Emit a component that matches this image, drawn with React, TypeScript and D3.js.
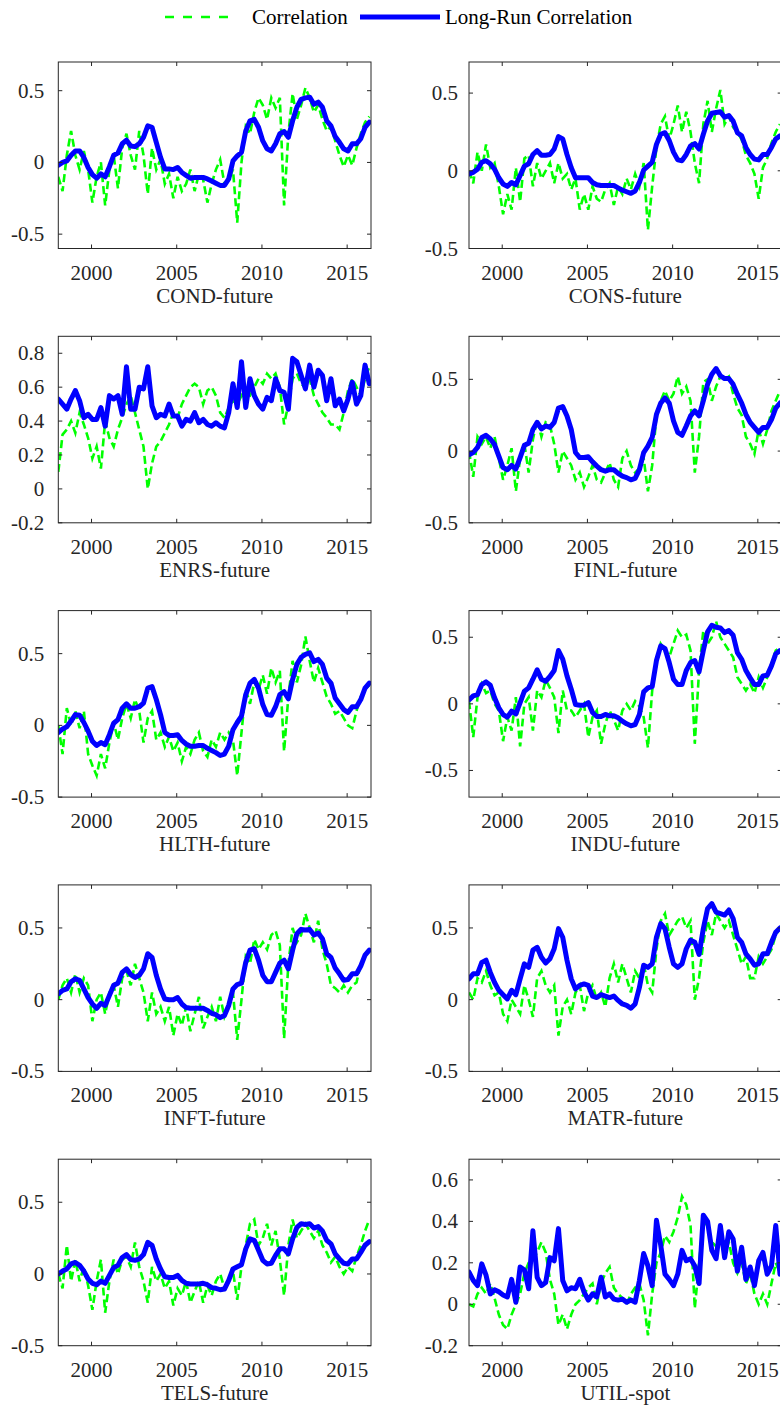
import React from 'react';
import * as d3 from 'd3';

// quarterly observation grid, 1998 to mid-2016
const startYear = 1998.05;
const quarters = d3.range(74).map(i => startYear + i * 0.25);
const yearTicks = [2000, 2005, 2010, 2015];

const panelNames = [
  'COND-future', 'CONS-future', 'ENRS-future', 'FINL-future', 'HLTH-future',
  'INDU-future', 'INFT-future', 'MATR-future', 'TELS-future', 'UTIL-spot',
];

const yRanges: [number, number][] = [
  [-0.6, 0.7], [-0.5, 0.7], [-0.2, 0.9], [-0.5, 0.8], [-0.5, 0.8],
  [-0.7, 0.7], [-0.5, 0.8], [-0.5, 0.8], [-0.5, 0.8], [-0.2, 0.7],
];

const halfTicks = [-0.5, 0, 0.5];
const enrsTicks = [-0.2, 0, 0.2, 0.4, 0.6, 0.8];
const utilTicks = [-0.2, 0, 0.2, 0.4, 0.6];
const yTickSets = [halfTicks, halfTicks, enrsTicks, halfTicks, halfTicks, halfTicks, halfTicks, halfTicks, halfTicks, utilTicks];

// Correlation (green dashed) and Long-Run Correlation (blue)
const condCorr = [
  -0.1, -0.2, 0.05, 0.22, 0.05, -0.05, 0.08, -0.05,
  -0.28, -0.1, 0.0, -0.3, -0.05, 0.05, -0.18, 0.1,
  0.2, 0.05, -0.05, 0.22, 0.05, -0.22, 0.1, -0.05,
  0.02, -0.15, -0.08, -0.25, -0.1, -0.2, -0.15, -0.05,
  -0.2, -0.08, -0.12, -0.28, -0.15, -0.05, 0.02, -0.15,
  -0.12, -0.05, -0.42, 0.0, 0.25, 0.2, 0.35, 0.45,
  0.4, 0.3, 0.45, 0.38, 0.45, -0.3, 0.2, 0.48,
  0.3, 0.4, 0.52, 0.45, 0.35, 0.4, 0.3, 0.22,
  0.25, 0.15, 0.05, -0.03, 0.05, -0.02, 0.1, 0.2,
  0.28, 0.32,
];
const condLR = [
  -0.02, 0, 0.01, 0.05, 0.08, 0.08, 0.035, -0.035,
  -0.085, -0.11, -0.08, -0.1, -0.03, 0.05, 0.065, 0.13,
  0.155, 0.115, 0.11, 0.13, 0.175, 0.255, 0.245, 0.14,
  0.035, -0.045, -0.045, -0.05, -0.035, -0.07, -0.09, -0.11,
  -0.105, -0.105, -0.105, -0.115, -0.13, -0.145, -0.16, -0.16,
  -0.115, 0.01, 0.045, 0.07, 0.22, 0.29, 0.3, 0.245,
  0.15, 0.095, 0.08, 0.13, 0.2, 0.215, 0.175, 0.29,
  0.385, 0.44, 0.45, 0.455, 0.405, 0.42, 0.385, 0.29,
  0.255, 0.18, 0.14, 0.095, 0.08, 0.13, 0.13, 0.165,
  0.245, 0.28,
];

const consCorr = [
  0.0, -0.08, 0.12, 0.0, 0.17, 0.02, 0.05, -0.1,
  -0.28, -0.15, -0.25, 0.02, -0.2, 0.08, 0.1, -0.1,
  0.05, -0.05, 0.0, 0.05, -0.08, 0.05, -0.05, -0.02,
  -0.12, -0.05, -0.25, -0.15, -0.25, -0.1, -0.18, -0.2,
  -0.12, -0.08, -0.22, -0.1, -0.15, -0.05, -0.12, -0.02,
  -0.1, 0.05, -0.38, -0.1, 0.15, 0.3, 0.35, 0.2,
  0.3, 0.42, 0.25, 0.38, 0.25, 0.05, -0.08, 0.3,
  0.45, 0.25, 0.4, 0.52, 0.3, 0.35, 0.28, 0.25,
  0.2, 0.1, 0.05, -0.02, -0.18, 0.02, 0.08, 0.18,
  0.25, 0.3,
];
const consLR = [
  -0.02, -0.01, 0.01, 0.055, 0.065, 0.045, 0.01, -0.045,
  -0.085, -0.1, -0.075, -0.09, -0.03, 0.03, 0.045, 0.105,
  0.13, 0.1, 0.1, 0.105, 0.14, 0.22, 0.205, 0.105,
  0.02, -0.045, -0.045, -0.045, -0.045, -0.075, -0.09, -0.095,
  -0.095, -0.095, -0.095, -0.11, -0.125, -0.135, -0.145, -0.13,
  -0.075, 0.005, 0.03, 0.055, 0.17, 0.235, 0.245, 0.195,
  0.12, 0.07, 0.065, 0.105, 0.16, 0.175, 0.14, 0.235,
  0.32, 0.37, 0.375, 0.38, 0.345, 0.355, 0.32, 0.245,
  0.225, 0.15, 0.105, 0.075, 0.07, 0.105, 0.105, 0.15,
  0.205, 0.225,
];

const enrsCorr = [
  0.1, 0.32, 0.35, 0.4, 0.33, 0.45, 0.38, 0.3,
  0.18, 0.25, 0.12, 0.4, 0.3, 0.25, 0.35, 0.42,
  0.5, 0.55, 0.45, 0.35, 0.25, 0.0, 0.15, 0.25,
  0.28, 0.33, 0.38, 0.45, 0.42, 0.5, 0.55, 0.6,
  0.62, 0.6, 0.5, 0.58, 0.6, 0.55, 0.45, 0.42,
  0.48, 0.52, 0.5, 0.55, 0.5, 0.55, 0.6, 0.65,
  0.62, 0.68, 0.65, 0.68, 0.6, 0.38, 0.5, 0.65,
  0.68, 0.62, 0.6, 0.65, 0.55, 0.5, 0.45, 0.42,
  0.38, 0.38, 0.35, 0.45, 0.58, 0.65, 0.6, 0.55,
  0.65, 0.72,
];
const enrsLR = [
  0.53, 0.5, 0.47, 0.53, 0.58, 0.52, 0.42, 0.44,
  0.41, 0.41, 0.48, 0.37, 0.55, 0.53, 0.55, 0.44,
  0.72, 0.47, 0.47, 0.6, 0.59, 0.72, 0.49, 0.42,
  0.44, 0.43, 0.5, 0.43, 0.43, 0.37, 0.41, 0.4,
  0.45, 0.39, 0.41, 0.38, 0.37, 0.39, 0.37, 0.36,
  0.45, 0.62, 0.48, 0.75, 0.48, 0.65, 0.55, 0.5,
  0.47, 0.54, 0.52, 0.65, 0.58, 0.57, 0.47, 0.77,
  0.75, 0.67, 0.59, 0.73, 0.6, 0.7, 0.67, 0.52,
  0.65, 0.49, 0.53, 0.46, 0.53, 0.63, 0.5, 0.55,
  0.73, 0.62,
];

const finlCorr = [
  0.0, -0.18, 0.1, 0.05, 0.1, 0.02, 0.1, -0.05,
  -0.2, -0.1, 0.02, -0.28, -0.05, 0.05, -0.15, 0.08,
  0.22, 0.1, 0.2, 0.18, 0.05, -0.15, 0.0, -0.05,
  -0.1, -0.2, -0.15, -0.25, -0.18, -0.1, -0.2, -0.22,
  -0.15, -0.08, -0.2, -0.25, -0.05, 0.0, -0.1, -0.15,
  -0.12, -0.05, -0.28, -0.1, 0.25, 0.35, 0.42, 0.35,
  0.4, 0.52, 0.4, 0.45, 0.35, -0.15, 0.1, 0.48,
  0.5, 0.35, 0.45, 0.52, 0.5, 0.52, 0.4, 0.3,
  0.25, 0.1, 0.05, -0.02, 0.15, 0.05, 0.15, 0.28,
  0.35, 0.42,
];
const finlLR = [
  -0.025, -0.01, 0.025, 0.095, 0.11, 0.085, 0.045, -0.035,
  -0.115, -0.13, -0.1, -0.125, -0.045, 0.04, 0.055, 0.15,
  0.2, 0.155, 0.175, 0.165, 0.2, 0.3, 0.31, 0.245,
  0.15, -0.01, -0.045, -0.045, -0.04, -0.075, -0.105, -0.13,
  -0.14, -0.13, -0.13, -0.155, -0.175, -0.185, -0.2, -0.19,
  -0.13, -0.01, 0.035, 0.095, 0.255, 0.335, 0.37, 0.335,
  0.21, 0.13, 0.11, 0.175, 0.245, 0.28, 0.245, 0.35,
  0.465, 0.535, 0.575, 0.525, 0.505, 0.505, 0.465, 0.395,
  0.335, 0.255, 0.2, 0.165, 0.13, 0.165, 0.165, 0.22,
  0.3, 0.335,
];

const hlthCorr = [
  0.0, -0.2, 0.12, 0.0, 0.1, -0.02, 0.1, -0.2,
  -0.28, -0.35, -0.2, -0.3, -0.12, 0.02, -0.1, 0.05,
  0.15, 0.05, 0.18, 0.1, -0.12, 0.05, 0.1, -0.1,
  -0.05, -0.15, -0.08, -0.18, -0.12, -0.25, -0.15, -0.2,
  -0.1, -0.05, -0.18, -0.22, -0.1, -0.15, -0.05, -0.1,
  -0.05, -0.1, -0.35, -0.05, 0.25, 0.15, 0.3, 0.25,
  0.35, 0.22, 0.4, 0.3, 0.38, -0.18, 0.2, 0.45,
  0.3, 0.42, 0.62, 0.45, 0.3, 0.4, 0.3, 0.2,
  0.15, 0.08, 0.1, 0.05, 0.0, -0.02, 0.1, 0.2,
  0.25, 0.28,
];
const hlthLR = [
  -0.05, -0.025, -0.01, 0.03, 0.075, 0.07, 0.02, -0.04,
  -0.11, -0.14, -0.12, -0.135, -0.065, 0.015, 0.04, 0.12,
  0.15, 0.12, 0.12, 0.13, 0.155, 0.26, 0.27, 0.18,
  0.075, -0.05, -0.07, -0.07, -0.065, -0.105, -0.13, -0.145,
  -0.145, -0.14, -0.14, -0.16, -0.175, -0.19, -0.21, -0.2,
  -0.145, -0.03, 0.02, 0.065, 0.215, 0.295, 0.32, 0.26,
  0.145, 0.075, 0.07, 0.13, 0.215, 0.235, 0.185, 0.32,
  0.425, 0.475, 0.495, 0.505, 0.445, 0.46, 0.425, 0.33,
  0.295, 0.19, 0.15, 0.11, 0.09, 0.13, 0.13, 0.18,
  0.26, 0.295,
];

const induCorr = [
  0.02, -0.25, 0.05, 0.15, 0.08, 0.1, 0.0, -0.05,
  -0.28, -0.1, -0.2, 0.05, -0.32, 0.0, 0.05, -0.2,
  0.1, 0.05, 0.18, 0.12, 0.05, -0.22, 0.1, -0.05,
  -0.05, -0.1, -0.05, 0.0, -0.25, -0.1, -0.05, -0.3,
  -0.15, -0.05, -0.12, -0.2, -0.05, 0.0, -0.05, 0.02,
  -0.02, -0.1, -0.33, 0.1, 0.3, 0.45, 0.4, 0.35,
  0.45, 0.55, 0.5, 0.52, 0.4, -0.3, 0.25, 0.55,
  0.45, 0.5, 0.62, 0.5, 0.45, 0.4, 0.35, 0.2,
  0.15, 0.1, 0.15, 0.08, 0.2, 0.12, 0.2, 0.3,
  0.4, 0.42,
];
const induLR = [
  0.03, 0.06, 0.07, 0.145, 0.165, 0.14, 0.045, -0.03,
  -0.08, -0.1, -0.055, -0.075, 0.01, 0.095, 0.12, 0.185,
  0.255, 0.185, 0.17, 0.205, 0.25, 0.4, 0.335, 0.21,
  0.11, -0.005, -0.01, -0.01, 0.01, -0.065, -0.095, -0.095,
  -0.08, -0.09, -0.09, -0.105, -0.13, -0.15, -0.165, -0.155,
  -0.08, 0.09, 0.12, 0.13, 0.325, 0.435, 0.415, 0.31,
  0.185, 0.145, 0.145, 0.25, 0.31, 0.325, 0.24, 0.4,
  0.54, 0.59, 0.575, 0.57, 0.535, 0.55, 0.515, 0.385,
  0.335, 0.25, 0.195, 0.145, 0.145, 0.21, 0.215, 0.285,
  0.375, 0.4,
];

const inftCorr = [
  0.0, 0.1, 0.15, 0.05, 0.18, 0.05, 0.15, 0.1,
  -0.15, 0.0, 0.05, -0.1, 0.05, 0.1, -0.05, 0.15,
  0.2, 0.1, 0.25, 0.15, 0.05, -0.15, 0.05, -0.1,
  -0.05, -0.15, -0.05, -0.25, -0.1, -0.18, -0.05, -0.22,
  -0.1, 0.02, -0.2, -0.12, -0.05, -0.15, 0.02, -0.12,
  -0.05, 0.05, -0.28, 0.0, 0.3, 0.25, 0.42, 0.35,
  0.4, 0.35, 0.45, 0.48, 0.38, -0.27, 0.25, 0.5,
  0.4, 0.45, 0.6, 0.5, 0.4, 0.55, 0.35, 0.25,
  0.1, 0.08, 0.05, 0.1, 0.05, 0.1, 0.12, 0.25,
  0.3, 0.35,
];
const inftLR = [
  0.04, 0.065, 0.075, 0.125, 0.145, 0.135, 0.075, 0.015,
  -0.03, -0.06, -0.025, -0.04, 0.03, 0.1, 0.115, 0.19,
  0.215, 0.175, 0.155, 0.17, 0.215, 0.32, 0.295, 0.17,
  0.075, 0.005, 0.0, 0.0, 0.015, -0.03, -0.055, -0.06,
  -0.06, -0.06, -0.06, -0.075, -0.095, -0.105, -0.125, -0.11,
  -0.04, 0.075, 0.105, 0.115, 0.26, 0.345, 0.355, 0.275,
  0.17, 0.125, 0.125, 0.19, 0.255, 0.275, 0.215, 0.345,
  0.46, 0.49, 0.485, 0.49, 0.45, 0.465, 0.425, 0.32,
  0.295, 0.22, 0.18, 0.135, 0.14, 0.18, 0.18, 0.235,
  0.31, 0.345,
];

const matrCorr = [
  0.05, 0.0, 0.15, 0.12, 0.2, 0.1, 0.03, 0.05,
  -0.1, -0.15, 0.0, -0.05, -0.1, 0.1, 0.0, -0.12,
  0.15, 0.2, 0.1, 0.05, 0.1, -0.25, -0.05, 0.0,
  -0.1, 0.05, 0.1, -0.08, 0.05, 0.1, 0.0, 0.05,
  -0.05, 0.15, 0.25, 0.12, 0.25, 0.15, 0.05, 0.2,
  0.15, 0.25, 0.1, 0.05, 0.35, 0.55, 0.6, 0.45,
  0.5, 0.55, 0.58, 0.5, 0.55, 0.0, 0.15, 0.4,
  0.55, 0.45, 0.6, 0.55, 0.5, 0.55, 0.45, 0.35,
  0.25, 0.3, 0.15, 0.15, 0.3, 0.25, 0.3, 0.35,
  0.45, 0.5,
];
const matrLR = [
  0.145, 0.18, 0.18, 0.26, 0.275, 0.19, 0.12, 0.065,
  0.035, 0.005, 0.065, 0.035, 0.145, 0.25, 0.225, 0.345,
  0.365, 0.295, 0.255, 0.285, 0.355, 0.495, 0.435, 0.275,
  0.145, 0.075, 0.1, 0.11, 0.1, 0.025, 0.015, 0.035,
  0.025, 0.015, 0.025, -0.005, -0.03, -0.04, -0.06, -0.03,
  0.085, 0.24, 0.225, 0.25, 0.435, 0.53, 0.495, 0.365,
  0.25, 0.225, 0.25, 0.355, 0.415, 0.4, 0.315, 0.495,
  0.635, 0.67, 0.61, 0.6, 0.59, 0.625, 0.565, 0.435,
  0.4, 0.32, 0.285, 0.24, 0.25, 0.32, 0.32, 0.4,
  0.47, 0.5,
];

const telsCorr = [
  0.0, -0.1, 0.2, -0.05, 0.1, -0.05, 0.05, -0.08,
  -0.25, -0.05, 0.1, -0.27, -0.05, 0.1, 0.0, 0.1,
  0.12, 0.05, 0.22, 0.05, -0.05, -0.2, 0.05, -0.05,
  0.0, -0.1, -0.05, -0.22, -0.1, -0.15, -0.05, -0.2,
  -0.12, -0.05, -0.2, -0.08, -0.15, -0.05, 0.0, -0.1,
  -0.05, 0.02, -0.18, 0.05, 0.2, 0.35, 0.38, 0.2,
  0.25, 0.35, 0.2, 0.3, 0.1, -0.15, 0.2, 0.38,
  0.25, 0.3, 0.35, 0.3, 0.25, 0.3, 0.2, 0.15,
  0.08, 0.12, 0.05, 0.0, 0.05, 0.02, 0.12, 0.2,
  0.3, 0.38,
];
const telsLR = [
  0.0, 0.02, 0.035, 0.07, 0.08, 0.06, 0.02, -0.035,
  -0.065, -0.075, -0.05, -0.065, -0.01, 0.045, 0.06, 0.115,
  0.135, 0.1, 0.095, 0.105, 0.135, 0.22, 0.2, 0.105,
  0.035, -0.02, -0.025, -0.025, -0.01, -0.045, -0.065, -0.07,
  -0.07, -0.07, -0.065, -0.075, -0.095, -0.1, -0.11, -0.105,
  -0.045, 0.035, 0.05, 0.065, 0.175, 0.245, 0.235, 0.165,
  0.095, 0.07, 0.075, 0.13, 0.175, 0.175, 0.14, 0.245,
  0.325, 0.35, 0.345, 0.35, 0.32, 0.33, 0.3, 0.235,
  0.21, 0.14, 0.105, 0.075, 0.07, 0.105, 0.105, 0.15,
  0.2, 0.225,
];

const utilCorr = [
  0.0, -0.01, 0.05, 0.08, 0.05, 0.1, 0.03, -0.05,
  -0.1, -0.12, -0.05, 0.0, 0.05, 0.15, 0.2, 0.22,
  0.25, 0.3, 0.25, 0.12, 0.05, -0.1, -0.05, -0.12,
  -0.05, 0.0, 0.02, 0.05, 0.08, 0.1, 0.0, 0.1,
  0.15, 0.18, 0.08, 0.05, 0.03, 0.0, 0.05, 0.08,
  0.1, 0.02, -0.15, 0.05, 0.2, 0.25, 0.33, 0.3,
  0.35, 0.42, 0.52, 0.48, 0.38, -0.02, 0.2, 0.4,
  0.38, 0.3, 0.28, 0.35, 0.25, 0.3, 0.2, 0.15,
  0.2, 0.1, 0.15, 0.05, 0.0, 0.05, 0.0, 0.1,
  0.2, 0.15,
];
const utilLR = [
  0.155, 0.115, 0.09, 0.195, 0.14, 0.05, 0.07, 0.06,
  0.045, 0.035, 0.12, 0.01, 0.18, 0.165, 0.075, 0.355,
  0.13, 0.09, 0.105, 0.225, 0.21, 0.365, 0.115, 0.065,
  0.08, 0.075, 0.12, 0.06, 0.02, 0.05, 0.035, 0.13,
  0.035, 0.05, 0.025, 0.02, 0.025, 0.01, 0.02, 0.01,
  0.115, 0.245, 0.185, 0.09, 0.405, 0.285, 0.145, 0.12,
  0.09, 0.145, 0.26, 0.21, 0.22, 0.185, 0.1, 0.43,
  0.4, 0.26, 0.22, 0.38, 0.225, 0.35, 0.315, 0.16,
  0.275, 0.12, 0.18, 0.09, 0.21, 0.25, 0.145, 0.185,
  0.38, 0.145,
];

const corrSeries = [condCorr, consCorr, enrsCorr, finlCorr, hlthCorr, induCorr, inftCorr, matrCorr, telsCorr, utilCorr];
const longRunSeries = [condLR, consLR, enrsLR, finlLR, hlthLR, induLR, inftLR, matrLR, telsLR, utilLR];

const W = 780;
const H = 1406;
const colLeft = [58.3, 469];
const labelGap = [14, 11];
const plotW = 312.7;
const plotH = 186.5;
const rowTop = (r: number) => 62 + r * 274.3;
const axisColor = '#262626';
const font = '"Liberation Serif", "Times New Roman", serif';

const Panel: React.FC<{ idx: number }> = ({ idx }) => {
  const col = idx % 2;
  const row = Math.floor(idx / 2);
  const x0 = colLeft[col];
  const y0 = rowTop(row);

  const x = d3.scaleLinear().domain([1998.05, 2016.4]).range([x0, x0 + plotW]);
  const y = d3.scaleLinear().domain(yRanges[idx]).range([y0 + plotH, y0]);

  const line = d3.line<number>()
    .x((_, i) => x(quarters[i]))
    .y(d => y(d));

  const clipId = `clip-${idx}`;
  const tickLen = 4;

  return (
    <g>
      <clipPath id={clipId}>
        <rect x={x0} y={y0} width={plotW} height={plotH} />
      </clipPath>
      <g clipPath={`url(#${clipId})`}>
        <path d={line(corrSeries[idx]) || ''} fill="none" stroke="#00ff00" strokeWidth={2.6} strokeDasharray="8,4" />
        <path d={line(longRunSeries[idx]) || ''} fill="none" stroke="#0000ff" strokeWidth={5} strokeLinejoin="round" strokeLinecap="round" />
      </g>
      <rect x={x0} y={y0} width={plotW} height={plotH} fill="none" stroke={axisColor} strokeWidth={1} />
      {yearTicks.map(t => (
        <g key={`x${t}`}>
          <line x1={x(t)} x2={x(t)} y1={y0 + plotH} y2={y0 + plotH - tickLen} stroke={axisColor} />
          <line x1={x(t)} x2={x(t)} y1={y0} y2={y0 + tickLen} stroke={axisColor} />
          <text x={x(t)} y={y0 + plotH + 31} textAnchor="middle" fontSize={21} fill={axisColor} fontFamily={font}>{t}</text>
        </g>
      ))}
      {yTickSets[idx].map(t => (
        <g key={`y${t}`}>
          <line x1={x0} x2={x0 + tickLen} y1={y(t)} y2={y(t)} stroke={axisColor} />
          <line x1={x0 + plotW} x2={x0 + plotW - tickLen} y1={y(t)} y2={y(t)} stroke={axisColor} />
          <text x={x0 - labelGap[col]} y={y(t) + 7} textAnchor="end" fontSize={21} fill={axisColor} fontFamily={font}>{String(t)}</text>
        </g>
      ))}
      <text x={x0 + plotW / 2} y={y0 + plotH + 54} textAnchor="middle" fontSize={21} fill={axisColor} fontFamily={font}>{panelNames[idx]}</text>
    </g>
  );
};

export default function App() {
  return (
    <svg width={W} height={H} style={{ position: 'absolute', left: 0, top: 0, background: '#fff' }}>
      <rect width={W} height={H} fill="#fff" />
      <g>
        <line x1={165} x2={237} y1={17} y2={17} stroke="#00ff00" strokeWidth={2.6} strokeDasharray="9,9" />
        <text x={252} y={24} fontSize={21} fill="#000" fontFamily={font}>Correlation</text>
        <line x1={360} x2={440} y1={17} y2={17} stroke="#0000ff" strokeWidth={5} />
        <text x={445} y={24} fontSize={21} fill="#000" fontFamily={font}>Long-Run Correlation</text>
      </g>
      {panelNames.map((_, i) => <Panel key={i} idx={i} />)}
    </svg>
  );
}
